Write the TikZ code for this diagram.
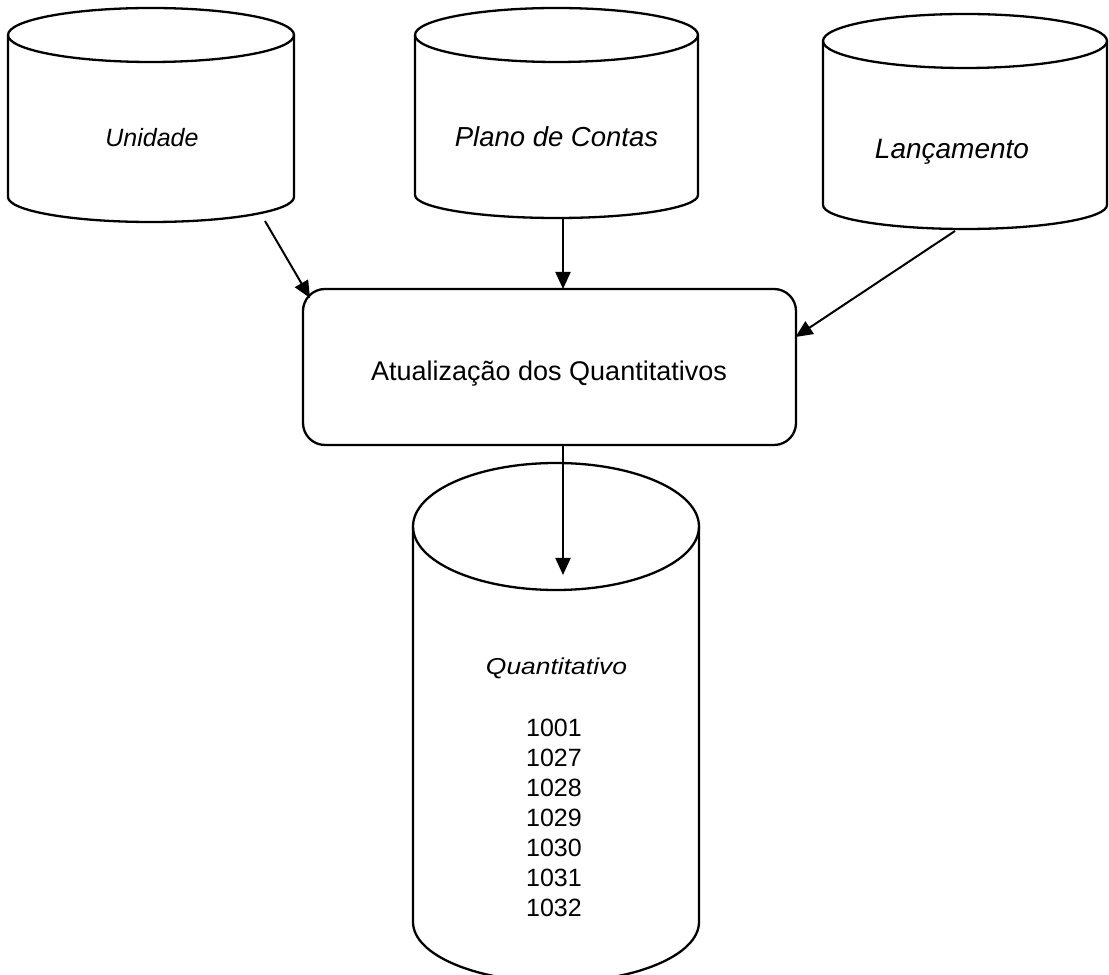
\documentclass[tikz,border=0pt]{standalone}
\usepackage{fontspec}
\setmainfont{Liberation Sans}
\usetikzlibrary{arrows.meta}

% cylinder (data store): centre x, top-ellipse y, bottom-arc y, x radius, top y radius, bottom y radius
\newcommand\dbdrum[6]{%
  \draw[drumline] (#1-#4,#2) -- (#1-#4,#3)
    arc[start angle=180,end angle=360,x radius=#4,y radius=#6] -- (#1+#4,#2);
  \draw[drumline] (#1,#2) ellipse[x radius=#4,y radius=#5];
}

\tikzset{
  drumline/.style={line width=2.3pt,black},
  flow/.style={line width=2pt,-{Triangle[length=17pt,width=15pt]}},
  drumlabel/.style={anchor=base,inner sep=0pt,font=\itshape},
  procbox/.style={draw,line width=2.3pt,rounded corners=22pt,
    minimum width=493pt,minimum height=156pt,inner sep=0pt},
  numline/.style={anchor=base,inner sep=0pt,font=\fontsize{25}{30}\selectfont},
}

\begin{document}
\begin{tikzpicture}[x=1pt,y=1pt]
\useasboundingbox (0,0) rectangle (1109,975);
\clip (0,0) rectangle (1109,975);

% data stores
\dbdrum{151}{940}{778}{143}{27}{25}
\dbdrum{556.5}{940}{780}{141.5}{27}{23}
\dbdrum{965}{934}{770}{142}{27}{24}
\dbdrum{556}{448.5}{53}{143}{63.5}{60}

\node[drumlabel,font=\itshape\fontsize{25}{28}\selectfont] (unidade) at (152,828) {Unidade};
\node[drumlabel,font=\itshape\fontsize{27.5}{32}\selectfont] (plano) at (556.5,828) {Plano de Contas};
\node[drumlabel,font=\itshape\fontsize{28}{32}\selectfont] (lanc) at (952,816.5) {Lançamento};
\node[drumlabel,font=\itshape\fontsize{23}{28}\selectfont] (quant) at (556.5,300) {\scalebox{1.15}[1]{Quantitativo}};

\node[numline] (n1) at (554,238) {1001};
\node[numline] (n2) at (554,208) {1027};
\node[numline] (n3) at (554,178) {1028};
\node[numline] (n4) at (554,148) {1029};
\node[numline] (n5) at (554,118) {1030};
\node[numline] (n6) at (554,88) {1031};
\node[numline] (n7) at (554,58) {1032};

% process
\node[procbox] (upd) at (549.5,608) {};
\node[anchor=base,inner sep=0pt,font=\fontsize{27}{32}\selectfont] (updtext) at (549,594)
  {Atualização dos Quantitativos};

% connector end points
\coordinate (uniOut) at (265,754);
\coordinate (uniIn) at (310,677);
\coordinate (planoOut) at (563,757);
\coordinate (planoIn) at (563,686);
\coordinate (lancOut) at (955,744);
\coordinate (lancIn) at (795.5,638);
\coordinate (updOut) at (563,530);
\coordinate (quantIn) at (563,400);

\draw[flow] (uniOut) -- (uniIn);
\draw[flow] (planoOut) -- (planoIn);
\draw[flow] (lancOut) -- (lancIn);
\draw[flow] (updOut) -- (quantIn);
\end{tikzpicture}
\end{document}
